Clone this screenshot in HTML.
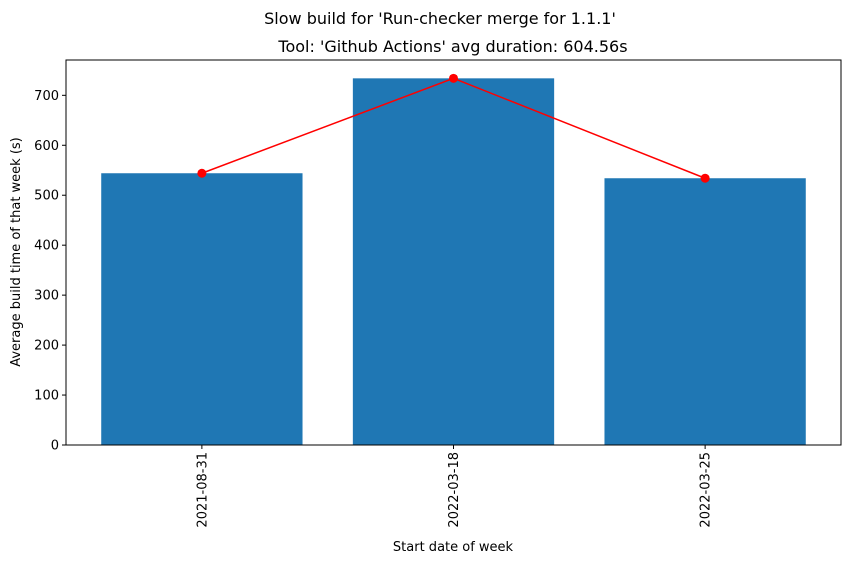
<!DOCTYPE html>
<html><head><meta charset="utf-8"><style>
body{margin:0;background:#fff;font-family:"Liberation Sans","DejaVu Sans",sans-serif;}
svg text{font-family:"DejaVu Sans","Liberation Sans",sans-serif;}
</style></head><body>
<svg id="chart" width="850" height="564" xmlns="http://www.w3.org/2000/svg">
<rect width="850" height="564" fill="#fff"/>
<text x="440" y="24" font-size="16" text-anchor="middle">Slow build for 'Run-checker merge for 1.1.1'</text>
<text x="453" y="52" font-size="16" text-anchor="middle">Tool: 'Github Actions' avg duration: 604.56s</text>
<g id="plot"></g>
<text x="453" y="551" font-size="13" text-anchor="middle">Start date of week</text>
<text transform="translate(20,252) rotate(-90)" font-size="13" text-anchor="middle">Average build time of that week (s)</text>
</svg>
<script>
const categories = ["2021-08-31","2022-03-18","2022-03-25"];
const values = [544, 734, 534];
const yTicks = [0,100,200,300,400,500,600,700];

const L=66,R=841,T=60,B=445;
const ymax=Math.max(...values)*1.05;
const xmin=-0.54,xmax=categories.length-1+0.54;
const xs=i=>L+(i-xmin)/(xmax-xmin)*(R-L);
const ys=v=>B-v/ymax*(B-T);
const bw=0.8*(R-L)/(xmax-xmin);
const NS="http://www.w3.org/2000/svg";
const g=document.getElementById('plot');
function mk(t,a){const e=document.createElementNS(NS,t);for(const k in a)e.setAttribute(k,a[k]);g.appendChild(e);return e;}
values.forEach((v,i)=>{
  const r=mk('rect',{x:xs(i)-bw/2,y:ys(v),width:bw,height:B-ys(v),fill:'#1f77b4'});
  
  
});
const pts=values.map((v,i)=>xs(i)+','+ys(v)).join(' ');
const pl=mk('polyline',{points:pts,fill:'none',stroke:'#ff0000','stroke-width':1.5});


values.forEach((v,i)=>{
  const c=mk('circle',{cx:xs(i),cy:ys(v),r:4.5,fill:'#ff0000'});
  
  
});
const fr=mk('rect',{x:L,y:T,width:R-L,height:B-T,fill:'none',stroke:'#000','stroke-width':1});


yTicks.forEach(t=>{
  const y=ys(t);
  const l=mk('line',{x1:L-4,x2:L,y1:y,y2:y,stroke:'#000'});
  
  
  const tx=mk('text',{x:L-7,y:y+4.5,'font-size':13,'text-anchor':'end'});
  tx.textContent=t;
  
  
});
categories.forEach((c,i)=>{
  const x=xs(i);
  const l=mk('line',{x1:x,x2:x,y1:B,y2:B+4,stroke:'#000'});
  
  
  const tx=mk('text',{transform:`translate(${x+4.5},${B+7}) rotate(-90)`,'font-size':13,'text-anchor':'end'});
  tx.textContent=c;
  
  
});
</script>
</body></html>
